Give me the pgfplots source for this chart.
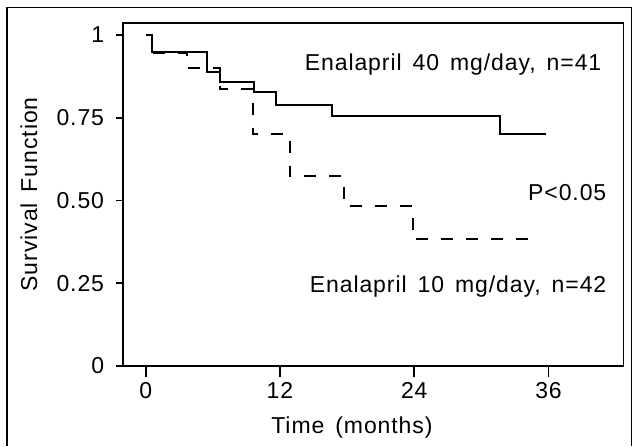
\documentclass[border=0pt]{standalone}
\usepackage{fontspec}
\setmainfont{Liberation Sans}[LetterSpace=4, WordSpace=1.5]
\usepackage{pgfplots}
\pgfplotsset{compat=1.18}
\begin{document}
\fontsize{11.5}{13.8}\selectfont
\begin{tikzpicture}
\useasboundingbox (0,0) rectangle (316.5pt,223pt);
% outer frame
\draw[line width=0.8pt] (3.35pt,0pt) -- (3.35pt,219.35pt) -- (315.75pt,219.35pt) -- (315.75pt,0pt);
\begin{axis}[
  at={(61.5pt,40pt)}, anchor=south west,
  scale only axis, width=250.25pt, height=171.65pt,
  xmin=-2.03, xmax=42.7, ymin=0, ymax=1.037,
  axis line style={line width=0.9pt},
  tick style={line width=0.9pt, black},
  tick align=outside,
  xtick pos=bottom, ytick pos=left,
  xtick={0,12,24,36}, ytick={0,0.25,0.5,0.75,1},
  yticklabels={0,0.25,0.50,0.75,1},
  xtick style={/pgfplots/major tick length=5.5pt},
  ytick style={/pgfplots/major tick length=3.5pt},
  /pgf/number format/assume math mode=true,
  yticklabel style={anchor=east, inner sep=0pt, xshift=-5pt},
  xticklabel style={anchor=north, inner sep=0pt, yshift=-4pt},
  xlabel={Time (months)},
  xlabel style={at={(axis description cs:0.4575,0)}, anchor=base, yshift=-33.5pt, inner sep=0pt},
  ylabel={Survival Function},
  ylabel style={at={(axis description cs:-0.188,0.5)}, anchor=center, rotate=0, inner sep=0pt},
]
% Enalapril 40 mg/day
\addplot[const plot, black, line width=1pt] coordinates {
  (0,1) (0.6,0.948) (5.5,0.889) (6.65,0.857) (9.7,0.827) (11.65,0.787) (16.66,0.756) (31.7,0.70) (35.8,0.70)
};
% Enalapril 10 mg/day
\addplot[const plot, black, line width=1pt, dash pattern=on 6pt off 6.5pt] coordinates {
  (0,1) (0.6,0.945) (3.66,0.90) (6.65,0.836) (9.6,0.70) (12.9,0.573) (17.7,0.483) (23.9,0.383) (35,0.383)
};
\end{axis}
\node[anchor=base east, inner sep=0pt] at (300.85pt,188pt) {Enalapril 40 mg/day, n=41};
\node[anchor=base east, inner sep=0pt] at (303.35pt,123pt) {P<0.05};
\node[anchor=base east, inner sep=0pt] at (303.35pt,77pt) {Enalapril 10 mg/day, n=42};
\end{tikzpicture}
\end{document}
